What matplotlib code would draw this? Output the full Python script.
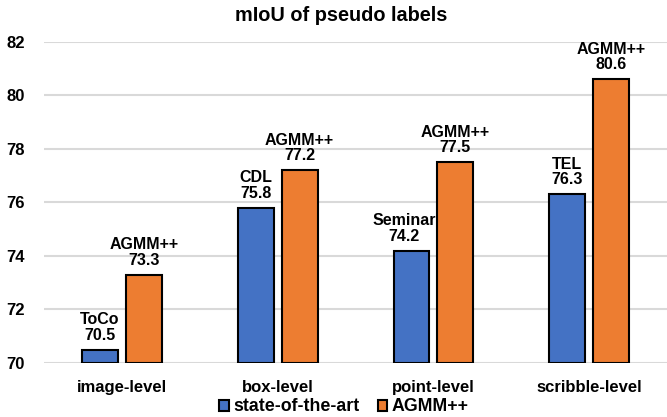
import matplotlib.pyplot as plt
import numpy as np
from matplotlib.patches import Patch

plt.rcParams['font.family'] = ['Liberation Sans', 'DejaVu Sans']
plt.rcParams['font.weight'] = 'bold'

categories = ['image-level', 'box-level', 'point-level', 'scribble-level']
sota_names = ['ToCo', 'CDL', 'Seminar', 'TEL']
sota_values = [70.5, 75.8, 74.2, 76.3]
ours_name = 'AGMM++'
ours_values = [73.3, 77.2, 77.5, 80.6]

blue = '#4472C4'
orange = '#ED7D31'

fig = plt.figure(figsize=(6.67, 4.17), dpi=100)
ax = fig.add_axes([0.066, 0.1295, 0.934, 0.770])

x = np.arange(len(categories))
width = 0.23
offset = 0.141

ax.bar(x - offset, np.array(sota_values) - 70, width, bottom=70,
       color=blue, edgecolor='black', linewidth=1.5, zorder=3)
ax.bar(x + offset, np.array(ours_values) - 70, width, bottom=70,
       color=orange, edgecolor='black', linewidth=1.5, zorder=3)

# long method names get nudged left so they don't run into the next bar
shift = {'Seminar': -5}
for i in range(len(categories)):
    ax.annotate(f"{sota_names[i]}\n{sota_values[i]}", (x[i] - offset, sota_values[i]),
                xytext=(shift.get(sota_names[i], 0), 5), textcoords='offset points',
                ha='center', va='bottom', fontsize=11.5, fontweight='bold', linespacing=1.05)
    ax.annotate(f"{ours_name}\n{ours_values[i]}", (x[i] + offset, ours_values[i]),
                xytext=(0, 5), textcoords='offset points', ha='center', va='bottom',
                fontsize=11.5, fontweight='bold', linespacing=1.05)

ax.set_xlim(-0.5, len(categories) - 0.5)
ax.set_ylim(70, 82)
ax.set_yticks(np.arange(70, 83, 2))
ax.set_xticks(x, categories)
ax.tick_params(axis='y', length=0, labelsize=12, pad=14)
ax.tick_params(axis='x', length=0, labelsize=12, pad=12)
for label in ax.get_yticklabels() + ax.get_xticklabels():
    label.set_fontweight('bold')

ax.grid(True, axis='y', color='#d9d9d9', linewidth=1.5, zorder=0)
for side in ['top', 'right', 'left', 'bottom']:
    ax.spines[side].set_visible(False)

fig.text(0.512, 0.963, 'mIoU of pseudo labels', ha='center', va='center',
         fontsize=14.3, fontweight='bold')

handles = [Patch(facecolor=blue, edgecolor='black', linewidth=1.5, label='state-of-the-art'),
           Patch(facecolor=orange, edgecolor='black', linewidth=1.5, label='AGMM++')]
fig.legend(handles=handles, loc='center', bbox_to_anchor=(0.516, 0.024), ncol=2,
           frameon=False, fontsize=12.8, handlelength=0.55, handleheight=0.55,
           handletextpad=0.25, columnspacing=1.0, borderpad=0)

fig.savefig('out.png', dpi=100)
